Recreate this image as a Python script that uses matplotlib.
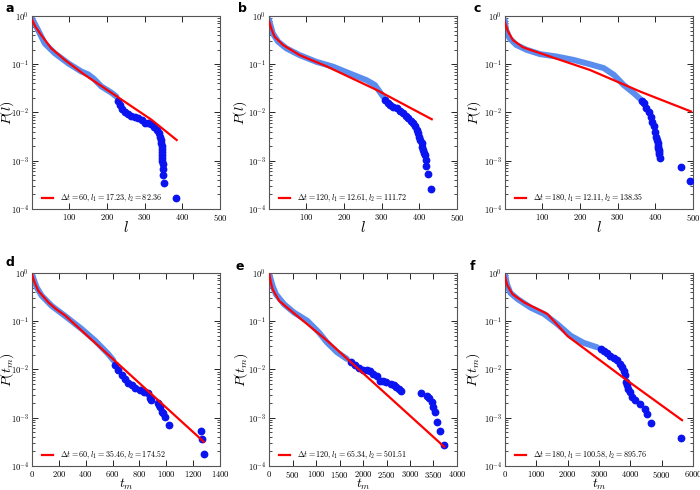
import matplotlib
matplotlib.use('Agg')
import matplotlib.pyplot as plt
from matplotlib.ticker import FixedLocator, FuncFormatter, LogLocator, NullFormatter
import numpy as np

plt.rcParams['mathtext.fontset'] = 'cm'
plt.rcParams['font.family'] = 'serif'
plt.rcParams['font.serif'] = ['cmr10', 'DejaVu Serif']
plt.rcParams['axes.formatter.use_mathtext'] = True

# light band = dense part of the distribution, values read as log10 P
a_band_x = [1, 17, 35, 61, 97, 132, 150, 165, 185, 212, 225]
a_band_y = [-0.05, -0.29, -0.57, -0.77, -0.98, -1.15, -1.21, -1.30, -1.46, -1.59, -1.67]
a_dots_x = [230, 234, 240, 247, 256, 265, 274, 283, 292, 300, 309, 318, 325, 332, 337, 340,
            343, 344, 345, 345, 346, 346, 347, 347, 348, 349, 350, 351, 383]
a_dots_y = [-1.76, -1.84, -1.92, -1.98, -2.04, -2.07, -2.10, -2.12, -2.16, -2.22, -2.22, -2.24, -2.30, -2.36, -2.42, -2.50,
            -2.58, -2.64, -2.70, -2.76, -2.82, -2.88, -2.94, -3.00, -3.06, -3.17, -3.30, -3.47, -3.78]
a_fit_x = [1, 10, 25, 52, 88, 141, 221, 318, 385]
a_fit_y = [-0.08, -0.22, -0.39, -0.67, -0.91, -1.22, -1.64, -2.15, -2.57]

b_band_x = [1, 11, 25, 47, 82, 127, 171, 215, 260, 282, 304]
b_band_y = [-0.08, -0.36, -0.53, -0.67, -0.81, -0.95, -1.05, -1.19, -1.33, -1.43, -1.67]
b_dots_x = [310, 316, 322, 331, 340, 348, 357, 364, 370, 377, 384, 389, 393, 397, 400, 403,
            406, 408, 410, 413, 415, 417, 419, 422, 432]
b_dots_y = [-1.74, -1.80, -1.84, -1.88, -1.91, -1.96, -2.02, -2.07, -2.12, -2.17, -2.22, -2.29, -2.36, -2.43, -2.50, -2.57,
            -2.64, -2.71, -2.78, -2.83, -2.88, -2.98, -3.11, -3.28, -3.59]
b_fit_x = [1, 8, 16, 38, 82, 153, 286, 433]
b_fit_y = [-0.11, -0.28, -0.43, -0.60, -0.81, -1.04, -1.53, -2.14]

c_band_x = [0, 4, 13, 31, 58, 94, 138, 183, 227, 263, 290, 316, 343, 360]
c_band_y = [-0.08, -0.29, -0.46, -0.60, -0.70, -0.79, -0.84, -0.91, -1.00, -1.08, -1.22, -1.43, -1.60, -1.72]
c_dots_x = [365, 370, 376, 382, 388, 392, 397, 400, 403, 405, 406, 407, 408, 409, 410, 411,
            413, 469, 492]
c_dots_y = [-1.76, -1.81, -1.90, -2.00, -2.09, -2.19, -2.29, -2.40, -2.50, -2.57, -2.64, -2.70, -2.74, -2.78, -2.81, -2.87,
            -2.94, -3.12, -3.43]
c_fit_x = [0, 9, 22, 49, 94, 227, 361, 495]
c_fit_y = [-0.12, -0.32, -0.50, -0.65, -0.77, -1.12, -1.57, -1.98]

d_band_x = [2, 35, 72, 146, 246, 370, 469, 568, 606]
d_band_y = [-0.05, -0.30, -0.47, -0.68, -0.89, -1.16, -1.40, -1.68, -1.81]
d_dots_x = [620, 643, 668, 693, 718, 742, 770, 804, 835, 866, 879, 886, 941, 948, 953, 966,
            978, 993, 1022, 1256, 1263, 1283]
d_dots_y = [-1.90, -2.02, -2.11, -2.19, -2.27, -2.33, -2.39, -2.43, -2.46, -2.48, -2.60, -2.64, -2.69, -2.74, -2.78, -2.88,
            -2.90, -2.98, -3.15, -3.27, -3.44, -3.76]
d_fit_x = [0, 20, 47, 122, 180, 246, 1280]
d_fit_y = [-0.04, -0.20, -0.37, -0.61, -0.75, -0.88, -3.50]

e_band_x = [7, 77, 147, 323, 533, 814, 1060, 1235, 1446, 1656]
e_band_y = [-0.03, -0.27, -0.44, -0.65, -0.82, -0.99, -1.23, -1.44, -1.64, -1.78]
e_dots_x = [1740, 1832, 1920, 2007, 2080, 2147, 2220, 2288, 2358, 2430, 2498, 2604, 2660, 2709, 2760, 2814,
            3235, 3354, 3410, 3466, 3494, 3529, 3585, 3642, 3726]
e_dots_y = [-1.84, -1.90, -1.96, -2.02, -2.02, -2.04, -2.09, -2.14, -2.23, -2.23, -2.25, -2.30, -2.33, -2.36, -2.41, -2.45,
            -2.49, -2.54, -2.60, -2.67, -2.78, -2.88, -3.09, -3.27, -3.57]
e_fit_x = [7, 40, 77, 218, 463, 1235, 1937, 3726]
e_fit_y = [-0.03, -0.20, -0.34, -0.58, -0.78, -1.40, -2.02, -3.60]

f_band_x = [0, 63, 169, 402, 825, 1249, 1672, 2095, 2519, 2942]
f_band_y = [-0.03, -0.23, -0.41, -0.54, -0.72, -0.85, -1.06, -1.30, -1.45, -1.54]
f_dots_x = [3050, 3153, 3260, 3366, 3470, 3578, 3660, 3736, 3800, 3842, 3873, 3895, 3916, 4000, 4054, 4138,
            4318, 4477, 4530, 4667, 5620]
f_dots_y = [-1.58, -1.61, -1.66, -1.71, -1.76, -1.81, -1.88, -1.95, -2.04, -2.12, -2.26, -2.33, -2.40, -2.47, -2.56, -2.64,
            -2.71, -2.81, -2.93, -3.11, -3.41]
f_fit_x = [0, 30, 85, 243, 614, 1355, 2000, 3862, 5650]
f_fit_y = [-0.06, -0.16, -0.27, -0.44, -0.61, -0.85, -1.31, -2.21, -3.05]

panel_labels = ['a', 'b', 'c', 'd', 'e', 'f']
legend_labels = [
    r'$\Delta t = 60, l_1 = 17.23, l_2 = 82.36$',
    r'$\Delta t = 120, l_1 = 12.61, l_2 = 111.72$',
    r'$\Delta t = 180, l_1 = 12.11, l_2 = 138.35$',
    r'$\Delta t = 60, l_1 = 35.46, l_2 = 174.52$',
    r'$\Delta t = 120, l_1 = 65.34, l_2 = 501.51$',
    r'$\Delta t = 180, l_1 = 100.58, l_2 = 895.76$',
]
xmax = [500, 500, 500, 1400, 4000, 6000]
xstep = [100, 100, 100, 200, 500, 1000]

panels = [
    (a_band_x, a_band_y, a_dots_x, a_dots_y, a_fit_x, a_fit_y),
    (b_band_x, b_band_y, b_dots_x, b_dots_y, b_fit_x, b_fit_y),
    (c_band_x, c_band_y, c_dots_x, c_dots_y, c_fit_x, c_fit_y),
    (d_band_x, d_band_y, d_dots_x, d_dots_y, d_fit_x, d_fit_y),
    (e_band_x, e_band_y, e_dots_x, e_dots_y, e_fit_x, e_fit_y),
    (f_band_x, f_band_y, f_dots_x, f_dots_y, f_fit_x, f_fit_y),
]

fig = plt.figure(figsize=(7, 4.9), dpi=100)
lefts = [32, 269, 505]
letter_pos = [(5, 8), (238, 8), (473, 8), (5, 262), (236, 266), (470, 266)]
# centre of the rotated y label, in axes fraction
ylab_x = [-0.13, -0.155, -0.165, -0.13, -0.150, -0.168]

for i, (bx, by, dx, dy, fx, fy) in enumerate(panels):
    row, col = divmod(i, 3)
    top, bottom = (16, 209) if row == 0 else (273, 466)
    ax = fig.add_axes([lefts[col] / 700, 1 - bottom / 490, 188 / 700, (bottom - top) / 490])

    ax.plot(bx, 10 ** np.array(by), color='#5b8def', lw=4.3, solid_capstyle='round', zorder=2)
    ax.plot(dx, 10 ** np.array(dy), 'o', color='#0a14f0', mec='#0a14f0', ms=4.6, zorder=3)
    ax.plot(fx, 10 ** np.array(fy), color='#ff0000', lw=1.6, zorder=4, label=legend_labels[i])

    ax.set_yscale('log')
    ax.set_ylim(1e-4, 1)
    if row == 0:
        ax.set_xlim(1, xmax[i])
        ticks = np.arange(xstep[i], xmax[i] + 1, xstep[i])
    else:
        ax.set_xlim(0, xmax[i])
        ticks = np.arange(0, xmax[i] + 1, xstep[i])
    ax.xaxis.set_major_locator(FixedLocator(ticks))
    ax.xaxis.set_major_formatter(FuncFormatter(lambda v, p: r'$%d$' % v))
    ax.yaxis.set_major_locator(FixedLocator([1e-4, 1e-3, 1e-2, 1e-1, 1]))
    ax.yaxis.set_major_formatter(FuncFormatter(lambda v, p: r'$10^{%d}$' % round(np.log10(v))))
    ax.yaxis.set_minor_locator(LogLocator(base=10, subs=np.arange(2, 10)))
    ax.yaxis.set_minor_formatter(NullFormatter())

    ax.tick_params(which='both', direction='in', top=True, right=True, labelsize=6.2, pad=2)
    ax.tick_params(which='major', length=4, width=0.6)
    ax.tick_params(which='minor', length=2, width=0.5)
    for s in ax.spines.values():
        s.set_color('#555555')
        s.set_linewidth(0.8)

    if row == 0:
        ax.set_ylabel(r'$P(l)$', fontsize=10, va='center')
        ax.set_xlabel(r'$l$', fontsize=11)
        ax.xaxis.set_label_coords(0.5, -0.055)
    else:
        ax.set_ylabel(r'$P(t_m)$', fontsize=10, va='center')
        ax.set_xlabel(r'$t_m$', fontsize=9.5)
        ax.xaxis.set_label_coords(0.5, -0.058)
    ax.yaxis.set_label_coords(ylab_x[i], 0.5)

    ax.legend(loc='lower left', frameon=False, fontsize=5.8, handlelength=1.35,
              handletextpad=0.8, borderaxespad=0.4, bbox_to_anchor=(0.02, -0.01))

    lx, ly = letter_pos[i]
    fig.text(lx / 700, 1 - ly / 490, panel_labels[i], fontsize=9, fontweight='bold',
             family='DejaVu Sans', va='center', ha='left')

fig.savefig('out.png', dpi=100)
